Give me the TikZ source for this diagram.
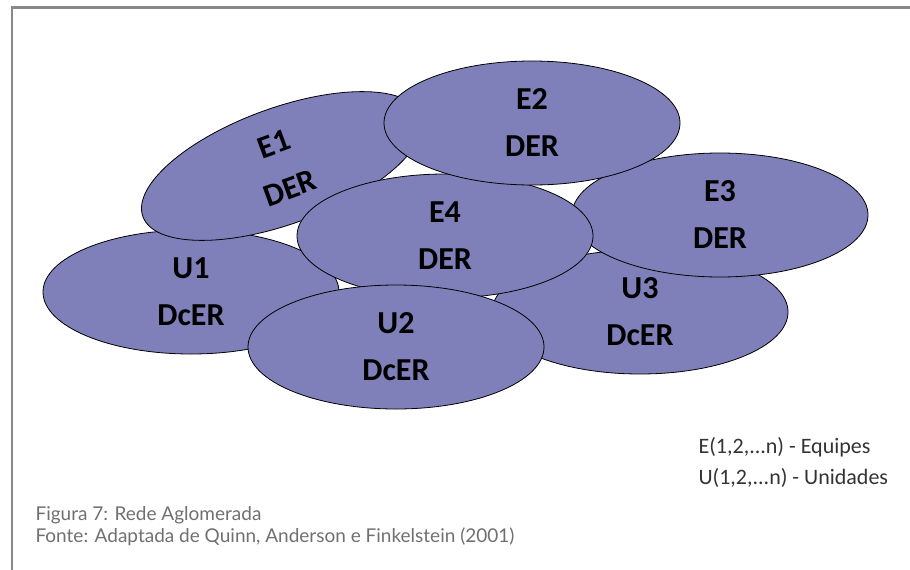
\documentclass[tikz,border=0pt]{standalone}
\usepackage{fontspec}
\setmainfont{Carlito}
\newfontfamily\capfont{Lato}
\usepackage{tikz}
\usetikzlibrary{shapes.geometric}
\definecolor{cluster}{RGB}{127,128,185}
\definecolor{framegray}{RGB}{136,136,136}
\definecolor{capgray}{RGB}{112,112,112}

\begin{document}
\begin{tikzpicture}[x=1pt,y=-1pt,
    grupo/.style={ellipse,draw=black,line width=0.8pt,fill=cluster,
      minimum width=296pt,minimum height=124pt,inner sep=0pt,align=center,
      font=\fontsize{32}{47}\selectfont\bfseries,text=black},
    legenda/.style={anchor=base west,font=\fontsize{22}{26}\selectfont,text=black!80},
    legfig/.style={anchor=base west,font=\capfont\fontsize{19}{22}\selectfont,text=capgray}]
    \useasboundingbox (0,0) rectangle (910,570);
    \coordinate (cantoA) at (910,7.3);
    \coordinate (cantoB) at (12,7.3);
    \coordinate (cantoC) at (12,570);
    \draw[framegray,line width=2.5pt] (cantoA) -- (cantoB) -- (cantoC);

    \draw node at (191,292)[name=U1,grupo]{U1\\DcER};
    \draw node at (640,312)[name=U3,grupo]{U3\\DcER};
    \draw node at (282,166)[name=E1,grupo,minimum height=116pt,rotate=20]{E1\\DER};
    \draw node at (720,215)[name=E3,grupo]{E3\\DER};
    \draw node at (445,236)[name=E4,grupo]{E4\\DER};
    \draw node at (396,347)[name=U2,grupo]{U2\\DcER};
    \draw node at (532,123)[name=E2,grupo]{E2\\DER};

    \draw node at (695,453)[name=legE,legenda]{E(1,2,...n) - Equipes};
    \draw node at (695,484)[name=legU,legenda]{U(1,2,...n) - Unidades};

    \draw node at (32,520)[name=fig,legfig]{Figura 7: Rede Aglomerada};
    \draw node at (32,542)[name=fonte,legfig]{Fonte: Adaptada de Quinn, Anderson e Finkelstein (2001)};
\end{tikzpicture}
\end{document}
